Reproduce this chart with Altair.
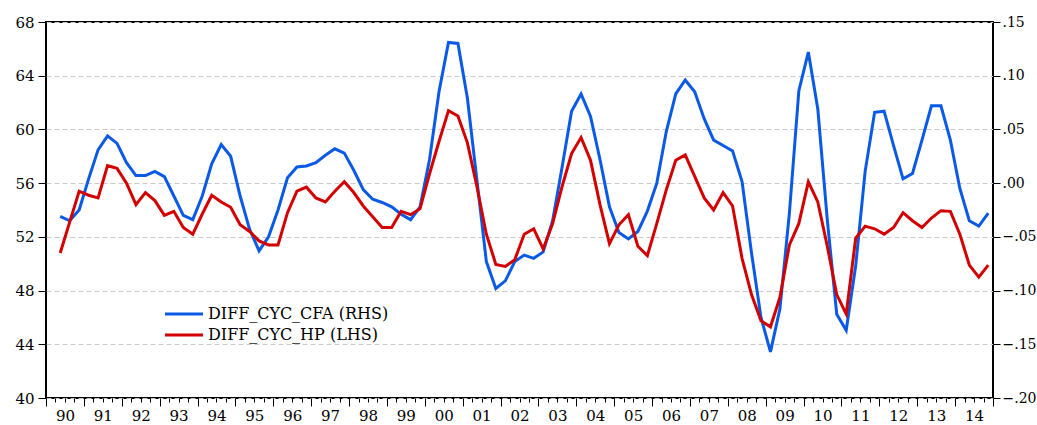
import altair as alt
import pandas as pd

# quarterly observations 1990Q2 .. 2014Q4
start_year = 1990
start_quarter = 2
n_obs = 99

cfa_rhs = [
    -0.031, -0.035, -0.025, 0.004, 0.031, 0.044, 0.037, 0.019, 0.007, 0.007,
    0.011, 0.006, -0.012, -0.030, -0.034, -0.012, 0.018, 0.036, 0.025, -0.012,
    -0.043, -0.063, -0.050, -0.025, 0.005, 0.015, 0.016, 0.019, 0.026, 0.032,
    0.028, 0.012, -0.006, -0.015, -0.018, -0.022, -0.029, -0.034, -0.022, 0.022,
    0.085, 0.131, 0.130, 0.079, 0.003, -0.073, -0.098, -0.091, -0.073, -0.067,
    -0.070, -0.064, -0.035, 0.015, 0.067, 0.083, 0.062, 0.022, -0.022, -0.046,
    -0.052, -0.045, -0.026, 0.000, 0.048, 0.083, 0.096, 0.085, 0.060, 0.040,
    0.035, 0.030, 0.0015, -0.065, -0.125, -0.157, -0.117, -0.028, 0.086, 0.122,
    0.069, -0.034, -0.122, -0.137, -0.077, 0.011, 0.066, 0.067, 0.035, 0.004,
    0.009, 0.040, 0.072, 0.072, 0.040, -0.005, -0.035, -0.040, -0.028,
]

hp_lhs = [
    50.8, 53.1, 55.4, 55.1, 54.9, 57.3, 57.1, 56.0, 54.4, 55.3,
    54.7, 53.6, 53.9, 52.7, 52.2, 53.7, 55.1, 54.6, 54.2, 52.9,
    52.4, 51.7, 51.4, 51.4, 53.8, 55.4, 55.7, 54.9, 54.6, 55.4,
    56.1, 55.3, 54.3, 53.5, 52.7, 52.7, 53.9, 53.65, 54.1, 56.7,
    59.1, 61.4, 61.0, 59.0, 55.75, 52.2, 49.95, 49.8, 50.3, 52.2,
    52.6, 51.1, 53.0, 55.75, 58.2, 59.4, 57.7, 54.4, 51.5, 52.9,
    53.65, 51.3, 50.6, 53.0, 55.5, 57.7, 58.1, 56.5, 54.9, 54.0,
    55.3, 54.3, 50.4, 47.7, 45.75, 45.3, 47.5, 51.4, 53.0, 56.1,
    54.6, 51.3, 47.7, 46.25, 51.9, 52.8, 52.6, 52.2, 52.7, 53.8,
    53.2, 52.7, 53.4, 53.95, 53.9, 52.2, 49.9, 49.0, 49.9,
]

series_names = ["DIFF_CYC_CFA (RHS)", "DIFF_CYC_HP (LHS)"]
series_colors = ["#0A5AE6", "#D20000"]

left_ticks = [40, 44, 48, 52, 56, 60, 64, 68]
right_ticks = [-0.20, -0.15, -0.10, -0.05, 0.00, 0.05, 0.10, 0.15]

# position of each quarter (mid-quarter) in quarters since 1990Q1
pos = [(start_quarter - 1) + i + 0.5 for i in range(n_obs)]
quarter_bounds = list(range(0, 101))

df_cfa = pd.DataFrame({"t": pos, "v": cfa_rhs, "series": series_names[0]})
df_hp = pd.DataFrame({"t": pos, "v": hp_lhs, "series": series_names[1]})

FONT = "DejaVu Serif"

color = alt.Color(
    "series:N",
    scale=alt.Scale(domain=series_names, range=series_colors),
    legend=alt.Legend(
        title=None,
        orient="none",
        legendX=127,
        legendY=281,
        symbolType="M-2,0H2",
        symbolSize=361,
        symbolStrokeWidth=3,
        labelFont=FONT,
        labelFontSize=16,
        labelColor="#000",
        labelOffset=13,
        rowPadding=2,
        labelLimit=400,
    ),
)

x_enc = alt.X(
    "t:Q",
    scale=alt.Scale(domain=[0, 100], nice=False, zero=False),
    axis=alt.Axis(
        title=None,
        values=quarter_bounds,
        labelExpr="datum.value % 4 == 2 ? format((1990 + floor(datum.value / 4)) % 100, '02d') : ''",
        labelOverlap=False,
        labelFlush=False,
        labelFont=FONT,
        labelFontSize=15,
        labelColor="#000",
        labelPadding=6,
        tickSize={"condition": {"test": "datum.value % 4 == 0", "value": 8}, "value": 4},
        tickColor="#000",
        tickWidth=1,
        domain=False,
        grid=False,
    ),
)

blue = alt.Chart(df_cfa).mark_line(strokeWidth=3).encode(
    x=x_enc,
    y=alt.Y(
        "v:Q",
        scale=alt.Scale(domain=[-0.20, 0.15], nice=False, zero=False),
        axis=alt.Axis(
            title=None,
            orient="right",
            values=right_ticks,
            labelExpr="replace(format(datum.value, '.2f'), '0.', '.')",
            labelFont=FONT,
            labelFontSize=14,
            labelColor="#000",
            labelPadding=2,
            tickSize=7,
            tickColor="#000",
            domain=False,
            grid=False,
        ),
    ),
    color=color,
)

red = alt.Chart(df_hp).mark_line(strokeWidth=3).encode(
    x=x_enc,
    y=alt.Y(
        "v:Q",
        scale=alt.Scale(domain=[40, 68], nice=False, zero=False),
        axis=alt.Axis(
            title=None,
            orient="left",
            values=left_ticks,
            labelFont=FONT,
            labelFontSize=15,
            labelColor="#000",
            labelPadding=4,
            tickSize=8,
            tickColor="#000",
            domain=False,
            grid=True,
            gridColor="#C8C8C8",
            gridDash=[5, 3],
            gridWidth=1,
        ),
    ),
    color=color,
)

chart = (
    alt.layer(blue, red)
    .resolve_scale(y="independent")
    .properties(
        width=947,
        height=376,
        autosize=alt.AutoSizeParams(type="none"),
        padding={"left": 46, "top": 22, "right": 44, "bottom": 27},
        background="white",
    )
    .configure_view(stroke="#000", strokeWidth=2)
)

chart.save("out.html", embed_options={"renderer": "svg", "actions": False})
